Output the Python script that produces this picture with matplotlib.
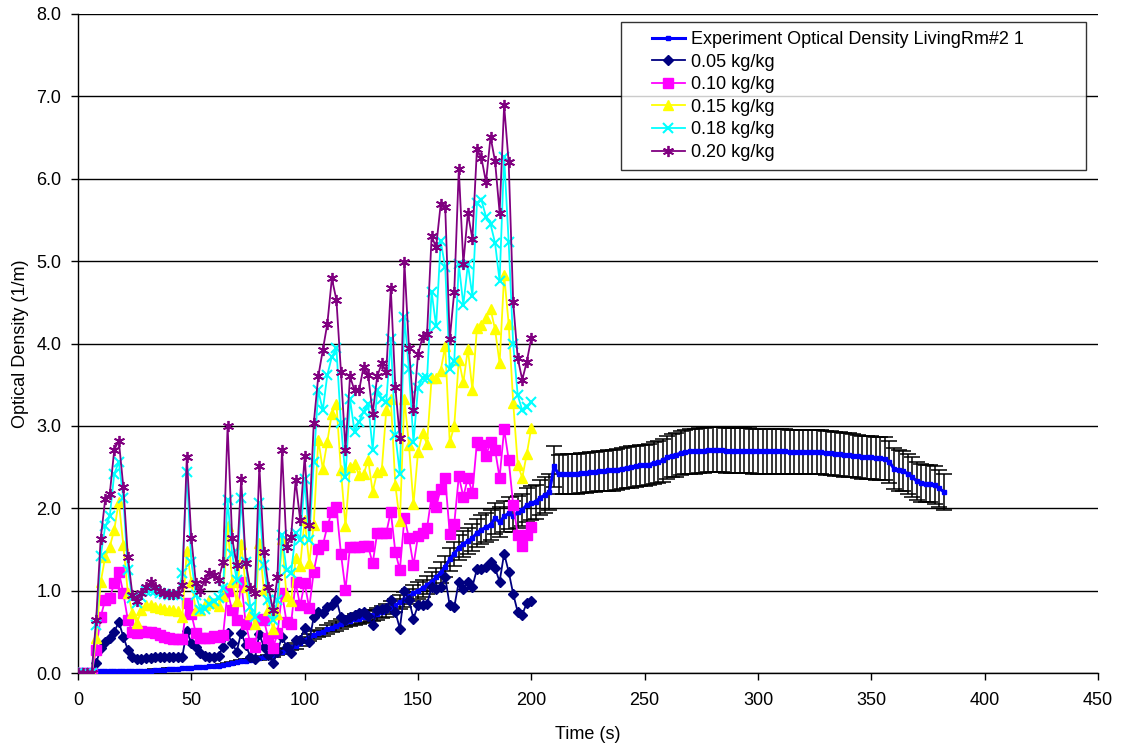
import numpy as np
import matplotlib.pyplot as plt
from matplotlib.lines import Line2D
from matplotlib.legend_handler import HandlerLine2D

plt.rcParams['font.family'] = ['Liberation Sans', 'DejaVu Sans']
plt.rcParams['font.size'] = 13

# model output, sampled every 2 s from 0 to 200 s
model_time = np.arange(0, 201, 2)

od_005 = [
    0, 0, 0, 0,
    0.12, 0.30, 0.38, 0.42, 0.50, 0.62, 0.44, 0.28, 0.20, 0.17, 0.17, 0.18, 0.18, 0.19, 0.19, 0.19,
    0.19, 0.19, 0.20, 0.20, 0.51, 0.36,
    0.32, 0.24, 0.21, 0.20, 0.19, 0.21, 0.32, 0.48, 0.36, 0.26, 0.49, 0.34, 0.20, 0.17, 0.47, 0.32,
    0.22, 0.12, 0.26, 0.44, 0.32, 0.24, 0.40, 0.40, 0.55,
    0.38, 0.68, 0.74, 0.73, 0.80, 0.83, 0.89, 0.68, 0.64, 0.68, 0.71, 0.73, 0.74, 0.69, 0.58, 0.76,
    0.78, 0.79, 0.89, 0.74, 0.54, 0.99, 0.89, 0.66,
    0.82, 0.82, 0.84, 1.04, 1.02, 1.05, 1.16, 0.82, 0.80, 1.11, 1.02, 1.11, 1.05, 1.26, 1.26, 1.29,
    1.35, 1.27, 1.11, 1.45, 1.23, 0.96, 0.74, 0.71, 0.85, 0.88,
]
od_010 = [
    0, 0, 0, 0,
    0.28, 0.68, 0.89, 0.91, 1.09, 1.23, 0.97, 0.64, 0.50, 0.48, 0.51, 0.50, 0.50, 0.48, 0.46, 0.44,
    0.42, 0.41, 0.41, 0.41, 0.85, 0.72,
    0.48, 0.42, 0.42, 0.43, 0.45, 0.44, 0.46, 0.99, 0.76, 0.64, 1.11, 0.60, 0.36, 0.32, 0.66, 0.64,
    0.42, 0.30, 0.48, 0.97, 0.62, 0.60, 1.10, 0.82, 1.09,
    0.79, 1.23, 1.51, 1.55, 1.78, 1.96, 2.02, 1.45, 1.01, 1.53, 1.53, 1.53, 1.54, 1.54, 1.33, 1.70,
    1.70, 1.70, 1.96, 1.47, 1.25, 1.88, 1.64, 1.31,
    1.66, 1.70, 1.76, 2.15, 2.02, 2.23, 2.37, 1.69, 1.81, 2.39, 2.14, 2.37, 2.19, 2.80, 2.77, 2.64,
    2.80, 2.71, 2.37, 2.96, 2.59, 2.04, 1.68, 1.54, 1.68, 1.77,
]
od_015 = [
    0, 0, 0, 0,
    0.42, 1.10, 1.41, 1.53, 1.74, 2.08, 1.55, 0.97, 0.73, 0.61, 0.76, 0.83, 0.82, 0.80, 0.79, 0.78,
    0.77, 0.76, 0.75, 0.68, 1.48, 1.11,
    0.76, 0.76, 0.83, 0.89, 0.85, 0.81, 0.93, 1.78, 1.11, 0.87, 1.57, 1.05, 0.72, 0.60, 1.58, 1.01,
    0.76, 0.54, 0.72, 1.63, 0.93, 0.87, 1.39, 1.30, 1.86,
    1.33, 1.80, 2.83, 2.48, 2.81, 3.15, 3.27, 2.46, 1.78, 2.50, 2.54, 2.40, 2.41, 2.59, 2.20, 2.44,
    2.46, 3.19, 3.33, 2.28, 1.84, 3.33, 2.77, 2.05,
    2.68, 2.91, 2.78, 3.58, 3.58, 3.67, 3.97, 2.80, 3.00, 3.80, 3.53, 3.93, 3.44, 4.19, 4.23, 4.31,
    4.42, 4.17, 3.76, 4.83, 4.24, 3.28, 2.53, 2.37, 2.66, 2.98,
]
od_018 = [
    0, 0, 0, 0,
    0.58, 1.42, 1.78, 1.90, 2.42, 2.56, 2.12, 1.25, 0.91, 0.85, 0.92, 0.99, 1.00, 0.99, 0.97, 0.96,
    0.95, 0.95, 0.95, 1.21, 2.44, 1.35,
    0.95, 0.77, 0.78, 0.84, 0.87, 0.91, 1.03, 2.10, 1.45, 1.13, 2.12, 1.35, 0.80, 0.68, 2.06, 1.31,
    0.89, 0.64, 0.89, 1.67, 1.25, 1.21, 1.70, 1.61, 2.35,
    1.61, 2.56, 3.43, 3.19, 3.62, 3.84, 3.94, 3.03, 2.38, 3.33, 2.93, 3.05, 3.17, 3.27, 2.71, 3.43,
    3.33, 3.29, 4.05, 2.89, 2.42, 4.32, 3.69, 2.80,
    3.46, 3.58, 3.58, 4.63, 4.21, 5.24, 4.93, 3.69, 3.79, 4.96, 4.47, 4.96, 4.58, 5.70, 5.74, 5.54,
    5.45, 5.22, 4.76, 6.27, 5.23, 3.99, 3.37, 3.19, 3.23, 3.29,
]
od_020 = [
    0, 0, 0, 0,
    0.64, 1.63, 2.11, 2.17, 2.71, 2.82, 2.26, 1.41, 0.95, 0.87, 0.97, 1.05, 1.10, 1.05, 1.00, 0.97,
    0.96, 0.96, 0.97, 1.07, 2.62, 1.64,
    1.09, 1.00, 1.13, 1.21, 1.19, 1.13, 1.35, 3.00, 1.64, 1.31, 2.36, 1.34, 1.03, 0.97, 2.51, 1.47,
    1.05, 0.76, 1.17, 2.71, 1.53, 1.65, 2.34, 1.86, 2.63,
    1.80, 3.03, 3.60, 3.92, 4.24, 4.79, 4.53, 3.66, 2.71, 3.60, 3.43, 3.43, 3.72, 3.62, 3.15, 3.60,
    3.76, 3.66, 4.67, 3.47, 2.85, 4.99, 3.95, 3.19,
    3.87, 4.08, 4.12, 5.30, 5.17, 5.69, 5.66, 4.05, 4.63, 6.12, 4.97, 5.58, 5.27, 6.36, 6.25, 5.96,
    6.51, 6.21, 5.59, 6.89, 6.20, 4.50, 3.82, 3.56, 3.78, 4.07,
]

# experiment, sampled every 2 s from 0 to 382 s
exp_time = np.arange(0, 383, 2)
exp_od = [
    0.00, 0.00, 0.01, 0.01, 0.02, 0.02, 0.02, 0.02, 0.02, 0.02,
    0.02, 0.02, 0.02, 0.03, 0.03, 0.03, 0.03, 0.04, 0.04, 0.04,
    0.05, 0.05, 0.05, 0.06, 0.06, 0.06, 0.07, 0.07, 0.07, 0.08,
    0.08, 0.09, 0.10, 0.11, 0.12, 0.13, 0.14, 0.15, 0.16, 0.17,
    0.18, 0.19, 0.20, 0.22, 0.24, 0.26, 0.28, 0.31, 0.33, 0.36,
    0.40, 0.43, 0.46, 0.48, 0.50, 0.53, 0.55, 0.57, 0.60, 0.62,
    0.63, 0.65, 0.66, 0.68, 0.69, 0.70, 0.72, 0.74, 0.76, 0.79,
    0.82, 0.86, 0.89, 0.93, 0.97, 1.00, 1.03, 1.07, 1.11, 1.16,
    1.22, 1.29, 1.38, 1.45, 1.52, 1.57, 1.60, 1.64, 1.70, 1.74,
    1.77, 1.80, 1.88, 1.83, 1.90, 1.94, 1.90, 1.95, 1.98, 2.04,
    2.06, 2.08, 2.13, 2.16, 2.20, 2.51, 2.41, 2.42, 2.42, 2.42,
    2.42, 2.43, 2.43, 2.44, 2.44, 2.45, 2.45, 2.46, 2.46, 2.47,
    2.48, 2.49, 2.50, 2.51, 2.52, 2.52, 2.53, 2.55, 2.56, 2.58,
    2.62, 2.64, 2.65, 2.67, 2.68, 2.69, 2.69, 2.70, 2.70, 2.71,
    2.71, 2.71, 2.71, 2.70, 2.70, 2.70, 2.70, 2.70, 2.70, 2.69,
    2.69, 2.69, 2.69, 2.69, 2.69, 2.69, 2.69, 2.68, 2.68, 2.68,
    2.68, 2.68, 2.68, 2.68, 2.68, 2.67, 2.67, 2.66, 2.66, 2.65,
    2.65, 2.64, 2.63, 2.62, 2.62, 2.62, 2.61, 2.61, 2.60, 2.56,
    2.48, 2.46, 2.45, 2.42, 2.38, 2.33, 2.31, 2.30, 2.30, 2.28,
    2.24, 2.20,
]
exp_uncertainty = 0.10  # relative uncertainty of the measurement

series_labels = ['0.05 kg/kg', '0.10 kg/kg', '0.15 kg/kg', '0.18 kg/kg', '0.20 kg/kg']
exp_label = 'Experiment Optical Density LivingRm#2 1'

styles = [
    dict(color='#000080', marker='D', ms=5.5, mec='#000080'),
    dict(color='#FF00FF', marker='s', ms=7, mec='#FF00FF'),
    dict(color='#FFFF00', marker='^', ms=7.5, mec='#FFFF00'),
    dict(color='#00FFFF', marker='x', ms=7, mew=1.5),
    dict(color='#800080', marker=(6, 2, 0), ms=8, mew=1.3),
]

fig = plt.figure(figsize=(11.25, 7.47), dpi=100)
ax = fig.add_axes([78 / 1125, 1 - 673 / 747, 1020 / 1125, 659 / 747])

exp_arr = np.asarray(exp_od)
ax.errorbar(exp_time, exp_arr, yerr=exp_uncertainty * exp_arr, fmt='none',
            ecolor='black', elinewidth=1.1, capsize=5.5, capthick=1.1, zorder=2)
ax.plot(exp_time, exp_arr, color='#0000FF', lw=2.2, marker='s', ms=2.2,
        label=exp_label, zorder=3)

for vals, lab, st in zip([od_005, od_010, od_015, od_018, od_020], series_labels, styles):
    ax.plot(model_time, vals, lw=1.3, label=lab, zorder=4, **st)

ax.set_xlim(0, 450)
ax.set_ylim(0, 8)
ax.set_xticks(np.arange(0, 451, 50))
ax.set_yticks(np.arange(0, 8.1, 1))
ax.set_yticklabels([f'{v:.1f}' for v in np.arange(0, 8.1, 1)])
ax.tick_params(axis='x', direction='out', length=5, width=1, pad=9, labelsize=13)
ax.tick_params(axis='y', direction='out', length=5, width=1, pad=7, labelsize=13)
ax.grid(axis='y', color='black', linewidth=1.0, zorder=0)
ax.set_axisbelow(True)

for s in ['top', 'right']:
    ax.spines[s].set_visible(False)
for s in ['left', 'bottom']:
    ax.spines[s].set_linewidth(1.0)
    ax.spines[s].set_color('black')

ax.set_xlabel('Time (s)', fontsize=13, labelpad=12)
ax.set_ylabel('Optical Density (1/m)', fontsize=13, labelpad=5)

# legend box: wider than its text, handles inset from the left edge
leg = ax.legend(loc='upper left', bbox_to_anchor=(543 / 1020, 0.763, 465 / 1020, 0.225),
                mode='expand', frameon=True, fancybox=False, fontsize=13,
                borderpad=0.5, labelspacing=0.31, handlelength=3.05, handletextpad=0.3,
                borderaxespad=0, handler_map={Line2D: HandlerLine2D(xpad=1.2)})
leg.get_frame().set_edgecolor('black')
leg.get_frame().set_linewidth(1.0)

fig.savefig('out.png', dpi=100, facecolor='white')
